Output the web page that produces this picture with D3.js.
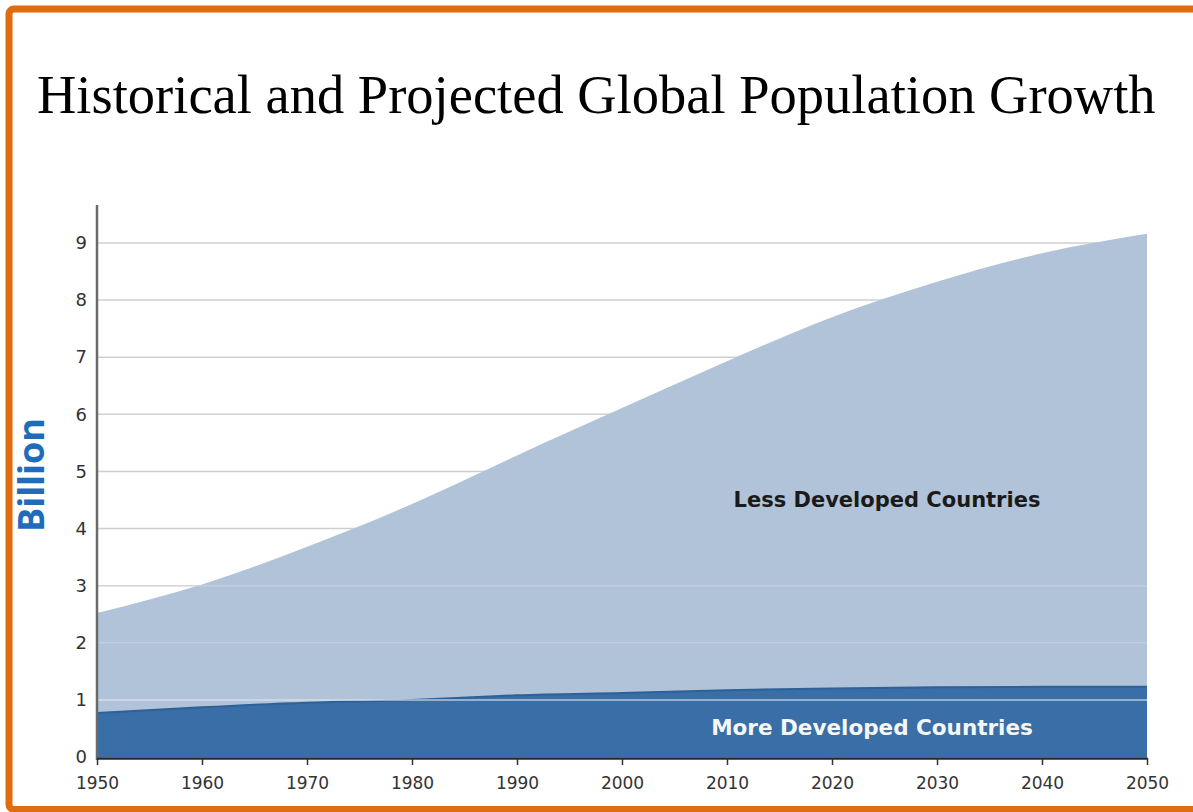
<!DOCTYPE html>
<html>
<head>
<meta charset="utf-8">
<script src="https://cdn.jsdelivr.net/npm/d3@7"></script>
<style>
  html, body { margin: 0; padding: 0; background: #fff; }
  svg { display: block; }
</style>
</head>
<body>
<svg id="chart" width="1193" height="812"></svg>
<script>
// Population in billions, by decade
const years = [1950, 1960, 1970, 1980, 1990, 2000, 2010, 2020, 2030, 2040, 2050];
const moreDeveloped = [0.77, 0.87, 0.95, 1.00, 1.08, 1.12, 1.17, 1.20, 1.22, 1.23, 1.23];
const lessDeveloped = [1.75, 2.15, 2.73, 3.43, 4.20, 4.99, 5.76, 6.50, 7.10, 7.59, 7.93];
const yTicks = [0, 1, 2, 3, 4, 5, 6, 7, 8, 9];
const xTicks = years;
const seriesKeys = ["more", "less"];
const seriesLabels = ["More Developed Countries", "Less Developed Countries"];

const svg = d3.select("#chart");
const W = 1193, H = 812;

// Frame
svg.append("rect")
  .attr("x", 9).attr("y", 9)
  .attr("width", W + 20).attr("height", 800.5)
  .attr("rx", 5)
  .attr("fill", "#fff")
  .attr("stroke", "#df6d0f")
  .attr("stroke-width", 7);

// Title
svg.append("text")
  .attr("x", 37).attr("y", 113)
  .attr("font-family", "'Liberation Serif', 'DejaVu Serif', serif")
  .attr("font-size", 54.5)
  .attr("fill", "#000")
  .text("Historical and Projected Global Population Growth");

const x = d3.scaleLinear().domain([1950, 2050]).range([97, 1147]);
const y = d3.scaleLinear().domain([0, 9]).range([757, 243]);

const rows = years.map((yr, i) => ({ year: yr, more: moreDeveloped[i], less: lessDeveloped[i] }));
const stacked = d3.stack().keys(seriesKeys)(rows);

const area = d3.area()
  .x(d => x(d.data.year))
  .y0(d => y(d[0]))
  .y1(d => y(d[1]))
  .curve(d3.curveNatural);

const colors = { more: "#3a6ea6", less: "#b0c3d8" };

// Gridlines under the areas
const grid = svg.append("g");
grid.selectAll("line").data(yTicks.filter(t => t > 0)).join("line")
  .attr("x1", 97).attr("x2", 1147)
  .attr("y1", d => y(d)).attr("y2", d => y(d))
  .attr("stroke", "#cfcfcf").attr("stroke-width", 1.5);

svg.append("g").selectAll("path").data(stacked.slice().reverse()).join("path")
  .attr("d", area)
  .attr("fill", d => colors[d.key]);

// Darker edge along the top of the lower band
const topLine = d3.line()
  .x(d => x(d.data.year))
  .y(d => y(d[1]))
  .curve(d3.curveNatural);
svg.append("path")
  .datum(stacked[0])
  .attr("d", topLine)
  .attr("fill", "none")
  .attr("stroke", "#2e6198")
  .attr("stroke-width", 2);

// Faint gridlines showing through the areas
svg.append("g").selectAll("line").data(yTicks.filter(t => t > 0 && t < 4)).join("line")
  .attr("x1", 97).attr("x2", 1147)
  .attr("y1", d => y(d)).attr("y2", d => y(d))
  .attr("stroke", "#dfe6ee").attr("stroke-width", 1.5)
  .attr("opacity", d => d === 1 ? 0.75 : 0.35);

// Axes
svg.append("line")
  .attr("x1", 97).attr("x2", 97)
  .attr("y1", 205).attr("y2", 760)
  .attr("stroke", "#6a6a6a").attr("stroke-width", 2.5);

const tickFont = "'DejaVu Sans', Verdana, sans-serif";

const xAxis = d3.axisBottom(x)
  .tickValues(xTicks)
  .tickFormat(d3.format("d"))
  .tickSize(7)
  .tickSizeOuter(0)
  .tickPadding(12);
const gx = svg.append("g").attr("transform", "translate(0,758)").call(xAxis);
gx.select(".domain").attr("stroke", "#1c2b3a").attr("stroke-width", 2.5);
gx.selectAll(".tick line").attr("stroke", "#333").attr("stroke-width", 1.5);
gx.selectAll(".tick text")
  .attr("font-family", tickFont)
  .attr("font-size", 17)
  .attr("fill", "#333");

const yAxis = d3.axisLeft(y)
  .tickValues(yTicks)
  .tickFormat(d3.format("d"))
  .tickSize(0)
  .tickPadding(10);
const gy = svg.append("g").attr("transform", "translate(97,0)").call(yAxis);
gy.select(".domain").remove();
gy.selectAll(".tick text")
  .attr("font-family", tickFont)
  .attr("font-size", 18)
  .attr("fill", "#333");

// Axis title
svg.append("text")
  .attr("transform", "translate(44,475) rotate(-90)")
  .attr("text-anchor", "middle")
  .attr("font-family", "'Open Sans', 'DejaVu Sans', sans-serif")
  .attr("font-weight", "bold")
  .attr("font-size", 36)
  .attr("fill", "#1f6cbd")
  .text("Billion");

// Series labels
svg.append("text")
  .attr("x", 887).attr("y", 507)
  .attr("text-anchor", "middle")
  .attr("font-family", "'DejaVu Sans', Verdana, sans-serif")
  .attr("font-weight", "bold")
  .attr("font-size", 21)
  .attr("fill", "#1a1a1a")
  .text(seriesLabels[1]);

svg.append("text")
  .attr("x", 872).attr("y", 735)
  .attr("text-anchor", "middle")
  .attr("font-family", "'DejaVu Sans', Verdana, sans-serif")
  .attr("font-weight", "bold")
  .attr("font-size", 21.5)
  .attr("fill", "#f4f6f8")
  .text(seriesLabels[0]);
</script>
</body>
</html>
